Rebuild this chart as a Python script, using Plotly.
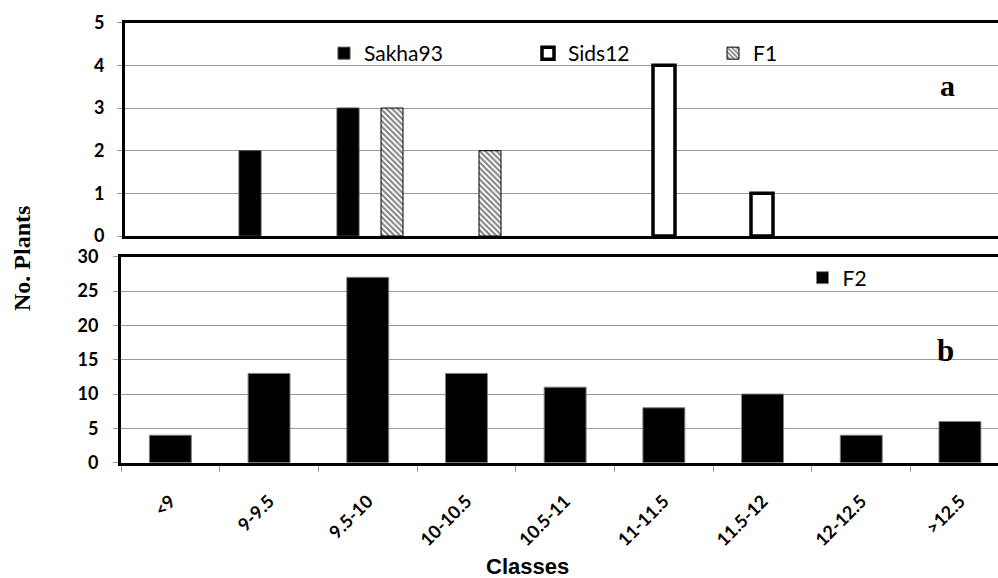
import plotly.graph_objects as go

categories = ["<9", "9-9.5", "9.5-10", "10-10.5", "10.5-11", "11-11.5", "11.5-12", "12-12.5", ">12.5"]
sakha93 = [0, 2, 3, 0, 0, 0, 0, 0, 0]
sids12 = [0, 0, 0, 0, 0, 4, 1, 0, 0]
f1 = [0, 0, 3, 2, 0, 0, 0, 0, 0]
f2 = [4, 13, 27, 13, 11, 8, 10, 4, 6]

W, H = 998, 578
GRID = "#9a9a9a"
SANS = "Lato"
SERIF = "Liberation Serif"

def px_x(p):
    return p / W

def px_y(p):
    return 1 - p / H

def nz(vals):
    # empty classes are drawn as no bar at all
    return [v if v else None for v in vals]

fig = go.Figure()

bw = 0.2245
fig.add_trace(go.Bar(x=categories, y=nz(sakha93), name="Sakha93", width=bw, offset=-1.5 * bw,
                     marker=dict(color="black", line=dict(color="#444444", width=1)),
                     xaxis="x", yaxis="y", legend="legend"))
fig.add_trace(go.Bar(x=categories, y=nz(sids12), name="Sids12", width=bw, offset=-0.5 * bw,
                     marker=dict(color="white", line=dict(color="black", width=3.5)),
                     xaxis="x", yaxis="y", legend="legend2"))
fig.add_trace(go.Bar(x=categories, y=nz(f1), name="F1", width=bw, offset=0.5 * bw,
                     marker=dict(color="white", line=dict(color="black", width=1),
                                 pattern=dict(shape="\\", fgcolor="black", bgcolor="white",
                                              size=4, solidity=0.5)),
                     xaxis="x", yaxis="y", legend="legend3"))
fig.add_trace(go.Bar(x=categories, y=nz(f2), name="F2", width=0.425,
                     marker=dict(color="black", line=dict(color="#808080", width=1)),
                     xaxis="x2", yaxis="y2", legend="legend4"))

tickfont = dict(family=SANS, size=18, color="black", weight="bold")

common_y = dict(showline=True, linecolor="black", linewidth=3, showgrid=True, gridcolor=GRID,
                gridwidth=1, ticks="outside", ticklen=5, tickcolor=GRID, zeroline=False,
                tickfont=tickfont, automargin=False)

legend_common = dict(orientation="h", bgcolor="rgba(0,0,0,0)", borderwidth=0,
                     font=dict(family=SANS, size=21, color="black"),
                     xanchor="left", yanchor="middle", itemclick=False)

fig.update_layout(
    width=W, height=H,
    margin=dict(l=0, r=0, t=0, b=0, autoexpand=False),
    paper_bgcolor="white", plot_bgcolor="white",
    barmode="overlay",
    xaxis=dict(domain=[px_x(125), 1], range=[-0.5, -0.5 + (W - 125) / 98.0], type="category",
               showline=True, linecolor="black", linewidth=3, mirror=True, automargin=False,
               showticklabels=False, ticks="", showgrid=False, anchor="y"),
    yaxis=dict(domain=[px_y(236), px_y(22.7)], range=[0, 5], dtick=1, anchor="x",
               ticklabelstandoff=9, **common_y),
    xaxis2=dict(domain=[px_x(121), 1], range=[-0.5, -0.5 + (W - 121) / 98.7], type="category",
                showline=True, linecolor="black", linewidth=3, mirror=True, automargin=False,
                tickson="boundaries", ticks="outside", ticklen=6, tickcolor=GRID,
                tickangle=-45, tickfont=dict(family=SANS, size=18, color="black", weight="bold"),
                ticklabelstandoff=18, showgrid=False, anchor="y2"),
    yaxis2=dict(domain=[px_y(462.7), px_y(256.7)], range=[0, 30], dtick=5, anchor="x2",
                ticklabelstandoff=11, **common_y),
    legend=dict(x=px_x(324), y=px_y(53.5), **legend_common),
    legend2=dict(x=px_x(528), y=px_y(53.5), **legend_common),
    legend3=dict(x=px_x(713), y=px_y(53.5), **legend_common),
    legend4=dict(x=px_x(802.5), y=px_y(278), **legend_common),
    showlegend=True,
)

annotations = [
    dict(text="a", x=px_x(947.5), y=px_y(85), xref="paper", yref="paper", showarrow=False,
         xanchor="center", yanchor="middle", font=dict(family=SERIF, size=30, color="black", weight="bold")),
    dict(text="b", x=px_x(945), y=px_y(350), xref="paper", yref="paper", showarrow=False,
         xanchor="center", yanchor="middle", font=dict(family=SERIF, size=31, color="black", weight="bold")),
    dict(text="Classes", x=px_x(527), y=px_y(566), xref="paper", yref="paper", showarrow=False,
         xanchor="center", yanchor="middle", font=dict(family="Liberation Sans", size=22, color="black", weight="bold")),
    dict(text="No. Plants", x=px_x(22), y=px_y(259), xref="paper", yref="paper", showarrow=False,
         textangle=-90, xanchor="center", yanchor="middle",
         font=dict(family=SERIF, size=24, color="black", weight="bold")),
]
fig.update_layout(annotations=annotations)

fig.write_html("out.html", config={"displayModeBar": False},
               post_script="document.body.style.margin='0';document.body.style.overflow='hidden';")
